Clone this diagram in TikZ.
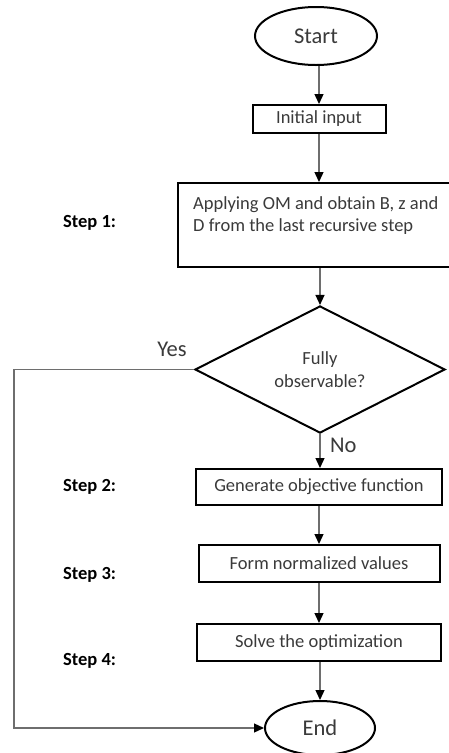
\documentclass[tikz,border=0pt]{standalone}
\usepackage{fontspec}
\setmainfont{Carlito}
\usetikzlibrary{shapes.geometric,arrows.meta}
\definecolor{txtgray}{HTML}{3A3A3A}
\definecolor{linegray}{HTML}{6E6E6E}
\begin{document}
\begin{tikzpicture}[x=1pt,y=-1pt,
  box/.style={draw=black, line width=2pt, rectangle, inner sep=0pt, text=txtgray, font=\fontsize{18.5}{22}\selectfont},
  term/.style={draw=black, line width=2pt, ellipse, inner sep=0pt, text=txtgray, font=\fontsize{22.5}{26}\selectfont},
  dec/.style={draw=black, line width=2pt, diamond, inner sep=0pt, text=txtgray, align=center, font=\fontsize{18.5}{23}\selectfont},
  conn/.style={draw=linegray, line width=1.3pt, -{Triangle[length=10pt,width=9pt,color=black]}},
  steplbl/.style={font=\bfseries\fontsize{18.5}{22}\selectfont, anchor=west, inner sep=0pt},
  yn/.style={font=\fontsize{22.5}{26}\selectfont, text=txtgray, inner sep=0pt}
]
\useasboundingbox (0,0) rectangle (449,753);
\node[term, minimum width=122pt, minimum height=58pt] (start) at (316,36) {Start};
\node[box, minimum width=133pt, minimum height=28pt] (init) at (319,119) {Initial input};
\node[box, minimum width=274pt, minimum height=84pt] (big) at (315,225) {};
\node[anchor=base west, inner sep=0pt, align=left, text=txtgray, font=\fontsize{18.5}{22}\selectfont] (bigtxt) at (193,231) {Applying OM and obtain B, z and\\D from the last recursive step};
\node[dec, minimum width=250pt, minimum height=125pt] (dia) at (320,369.5) {Fully\\observable?};
\node[box, minimum width=246pt, minimum height=36pt] (gen) at (319,487) {Generate objective function};
\node[box, minimum width=241pt, minimum height=37pt] (form) at (319,563.5) {Form normalized values};
\node[box, minimum width=244pt, minimum height=37pt] (solve) at (319,642.5) {Solve the optimization};
\node[term, minimum width=110pt, minimum height=54pt] (end) at (320,728) {End};

\node[steplbl] (s1) at (63,223) {Step 1:};
\node[steplbl] (s2) at (63,487) {Step 2:};
\node[steplbl] (s3) at (63,575) {Step 3:};
\node[steplbl] (s4) at (63,661) {Step 4:};
\node[yn] (yes) at (172,349) {Yes};
\node[yn, anchor=west] (no) at (330,445) {No};

\coordinate (lc) at (14,369.5);
\draw[conn] (start.south -| init.north) -- (init.north);
\draw[conn] (init.south) -- (init.south |- big.north);
\draw[conn] (big.south -| dia.north) -- (dia.north);
\draw[conn] (dia.south) -- (dia.south |- gen.north);
\draw[conn] (gen.south) -- (form.north);
\draw[conn] (form.south) -- (solve.north);
\draw[conn] (solve.south -| end.north) -- (end.north);
\draw[conn] (dia.west) -- (lc) |- (end.west);
\end{tikzpicture}
\end{document}
